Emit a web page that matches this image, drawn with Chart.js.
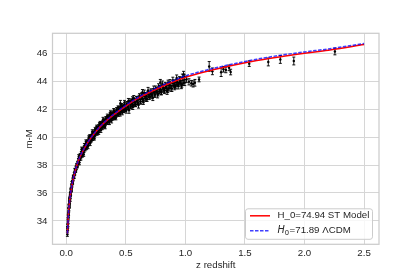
<!DOCTYPE html>
<html>
<head>
<meta charset="utf-8">
<script src="https://cdn.jsdelivr.net/npm/chart.js@4.4.0/dist/chart.umd.min.js"></script>
<style>
  body { margin: 0; background: #fff; }
  canvas { display: block; }
</style>
</head>
<body>
<canvas id="hubble" width="420" height="280"></canvas>
<script>
// model curves
const zModel = [0.01, 0.02, 0.03, 0.05, 0.075, 0.1, 0.15, 0.2, 0.25, 0.3, 0.4, 0.5, 0.6, 0.7, 0.8, 0.9, 1.0, 1.2, 1.4, 1.6, 1.8, 2.0, 2.2, 2.5];
const muST = [33.1, 34.63, 35.53, 36.64, 37.55, 38.25, 39.16, 39.85, 40.4, 40.87, 41.6, 42.22, 42.76, 43.2, 43.6, 43.95, 44.27, 44.74, 45.13, 45.47, 45.75, 45.99, 46.21, 46.62];
const muLCDM = [33.1, 34.64, 35.55, 36.66, 37.57, 38.27, 39.18, 39.87, 40.43, 40.9, 41.64, 42.27, 42.82, 43.27, 43.68, 44.04, 44.37, 44.84, 45.23, 45.57, 45.85, 46.09, 46.3, 46.69];

// supernova data (redshift, distance modulus, error)
const zObs = [
  0.010, 0.012, 0.013, 0.015, 0.016, 0.018, 0.019, 0.021, 0.022, 0.024,
  0.025, 0.027, 0.028, 0.030, 0.031, 0.033, 0.035, 0.037, 0.039, 0.041,
  0.043, 0.046, 0.048, 0.050, 0.053, 0.056, 0.059, 0.062, 0.065, 0.068,
  0.072, 0.075, 0.078, 0.082, 0.085, 0.088, 0.092, 0.095, 0.099, 0.103,
  0.107, 0.111, 0.115, 0.119, 0.123, 0.127, 0.131, 0.135, 0.140, 0.144,
  0.148, 0.152, 0.157, 0.161, 0.166, 0.170, 0.175, 0.180, 0.185, 0.190,
  0.195, 0.200, 0.205, 0.210, 0.216, 0.222, 0.228, 0.234, 0.240, 0.246,
  0.252, 0.258, 0.264, 0.270, 0.276, 0.282, 0.288, 0.294, 0.300, 0.307,
  0.314, 0.321, 0.328, 0.335, 0.342, 0.349, 0.356, 0.363, 0.370, 0.378,
  0.386, 0.394, 0.402, 0.410, 0.418, 0.426, 0.434, 0.442, 0.450, 0.455,
  0.458, 0.466, 0.474, 0.482, 0.490, 0.500, 0.510, 0.520, 0.530, 0.540,
  0.550, 0.560, 0.570, 0.580, 0.590, 0.600, 0.612, 0.624, 0.636, 0.648,
  0.660, 0.672, 0.684, 0.696, 0.708, 0.720, 0.732, 0.745, 0.758, 0.771,
  0.784, 0.797, 0.810, 0.824, 0.838, 0.852, 0.866, 0.880, 0.895, 0.910,
  0.925, 0.940, 0.955, 0.970, 0.985, 0.995, 1.010, 1.030, 1.050, 1.065,
  1.080, 1.115, 1.200, 1.227, 1.300, 1.320, 1.340, 1.367, 1.380, 1.536,
  1.696, 1.797, 1.910, 2.255, 0.372, 0.522, 0.556, 0.640, 0.790,
  0.105, 0.111, 0.117, 0.123, 0.129, 0.135, 0.141, 0.147, 0.153, 0.159,
  0.165, 0.171, 0.177, 0.183, 0.189, 0.195, 0.201, 0.207, 0.213, 0.219,
  0.225, 0.231, 0.237, 0.243, 0.249, 0.255, 0.261, 0.267, 0.273, 0.279,
  0.285, 0.291, 0.297, 0.303, 0.309, 0.315, 0.321, 0.327, 0.333, 0.339,
  0.345, 0.351, 0.357, 0.363, 0.369, 0.375, 0.381, 0.387, 0.393, 0.399,
  0.405, 0.411, 0.417, 0.423, 0.429, 0.435, 0.441, 0.447, 0.453, 0.459,
  0.465, 0.471, 0.477, 0.483, 0.489, 0.495,
  0.503, 0.511, 0.519, 0.527, 0.535, 0.543, 0.551, 0.559, 0.567, 0.575,
  0.583, 0.591, 0.599, 0.607, 0.615, 0.623, 0.631, 0.639, 0.647, 0.655,
  0.663, 0.671, 0.679, 0.687, 0.695, 0.703, 0.711, 0.719, 0.727, 0.735,
  0.743, 0.751, 0.759, 0.767, 0.775, 0.783, 0.791, 0.799, 0.807, 0.815,
  0.823, 0.831, 0.839, 0.847, 0.855, 0.863, 0.871, 0.879, 0.887, 0.895,
  0.903, 0.911, 0.919, 0.927, 0.935, 0.943, 0.951, 0.959, 0.967, 0.975,
  0.983, 0.991,
  0.011, 0.014, 0.017, 0.020, 0.023, 0.026, 0.029, 0.032, 0.036, 0.040,
  0.044, 0.049, 0.054, 0.060, 0.066, 0.073, 0.080, 0.087, 0.094
];
const muObs = [
  33.05, 33.45, 33.62, 33.95, 34.12, 34.38, 34.52, 34.78, 34.85, 35.08,
  35.05, 35.32, 35.36, 35.50, 35.62, 35.74, 35.88, 35.95, 36.15, 36.22,
  36.30, 36.52, 36.55, 36.70, 36.78, 36.95, 37.02, 37.15, 37.18, 37.35,
  37.40, 37.62, 37.58, 37.80, 37.78, 37.95, 38.00, 38.15, 38.12, 38.35,
  38.30, 38.52, 38.45, 38.65, 38.62, 38.85, 38.72, 38.98, 38.92, 39.15,
  39.02, 39.25, 39.12, 39.38, 39.30, 39.55, 39.38, 39.68, 39.52, 39.80,
  39.62, 39.95, 39.72, 40.05, 39.88, 40.20, 40.02, 40.38, 40.15, 40.48,
  40.28, 40.62, 40.38, 40.75, 40.50, 40.85, 40.62, 40.98, 40.72, 41.05,
  40.82, 41.18, 40.95, 41.28, 41.05, 41.40, 41.15, 41.48, 41.25, 41.58,
  41.35, 41.70, 41.45, 41.80, 41.55, 41.88, 41.62, 42.02, 41.75, 42.42,
  42.05, 41.85, 42.12, 41.92, 42.28, 42.00, 42.38, 42.10, 42.45, 42.20,
  42.55, 42.28, 42.62, 42.35, 42.72, 42.45, 42.82, 42.55, 42.90, 42.62,
  43.02, 42.72, 43.10, 42.85, 43.18, 42.95, 43.28, 43.05, 43.35, 43.12,
  43.48, 43.22, 43.55, 43.30, 43.65, 43.38, 43.72, 43.48, 43.85, 43.58,
  43.92, 43.65, 44.05, 43.78, 44.50, 43.90, 44.12, 43.95, 43.85, 43.80,
  43.88, 44.12, 45.05, 44.70, 44.63, 44.85, 44.80, 44.95, 44.65, 45.25,
  45.37, 45.55, 45.44, 46.12, 41.70, 42.58, 42.70, 43.20, 43.90,
  38.60, 38.18, 38.70, 38.53, 39.13, 38.68, 39.04, 38.76, 39.38, 39.19,
  39.66, 39.26, 39.61, 39.35, 39.93, 40.04, 39.56, 40.03, 39.82, 40.39,
  39.90, 40.22, 39.92, 40.51, 40.29, 40.73, 40.31, 40.63, 40.35, 40.90,
  40.98, 40.49, 40.94, 40.71, 41.26, 40.75, 41.06, 40.73, 41.31, 41.07,
  41.50, 41.06, 41.37, 41.07, 41.61, 41.69, 41.18, 41.62, 41.38, 41.91,
  41.39, 41.69, 41.36, 41.93, 41.69, 42.11, 41.67, 41.96, 41.66, 42.19,
  42.26, 41.75, 42.18, 41.94, 42.47, 41.95,
  41.89, 42.33, 42.13, 41.92, 42.54, 42.18, 42.41, 42.15, 42.77, 42.48,
  42.35, 42.71, 42.50, 42.29, 42.91, 42.52, 42.95, 42.74, 42.53, 43.13,
  42.76, 42.98, 42.71, 43.33, 43.03, 42.89, 43.24, 43.03, 42.81, 43.42,
  43.02, 43.45, 43.24, 43.02, 43.62, 43.25, 43.46, 43.20, 43.81, 43.50,
  43.36, 43.71, 43.49, 43.27, 43.88, 43.47, 43.90, 43.68, 43.46, 44.05,
  43.68, 43.89, 43.61, 44.22, 43.91, 43.77, 44.11, 43.89, 43.66, 44.27,
  43.87, 44.29,
  33.43, 33.73, 34.30, 34.49, 35.01, 35.12, 35.55, 35.51, 35.91, 36.23,
  36.21, 36.72, 36.76, 37.15, 37.15, 37.64, 37.62, 37.95, 37.92
];
const muErr = [
  0.15, 0.14, 0.13, 0.13, 0.12, 0.12, 0.12, 0.12, 0.11, 0.11,
  0.11, 0.11, 0.11, 0.11, 0.11, 0.11, 0.11, 0.11, 0.11, 0.11,
  0.11, 0.11, 0.11, 0.11, 0.11, 0.11, 0.11, 0.11, 0.11, 0.11,
  0.11, 0.11, 0.12, 0.12, 0.12, 0.12, 0.12, 0.12, 0.12, 0.12,
  0.12, 0.12, 0.12, 0.12, 0.12, 0.12, 0.13, 0.12, 0.12, 0.12,
  0.12, 0.12, 0.12, 0.12, 0.12, 0.12, 0.12, 0.12, 0.12, 0.12,
  0.12, 0.13, 0.12, 0.13, 0.12, 0.13, 0.12, 0.13, 0.13, 0.13,
  0.13, 0.13, 0.13, 0.13, 0.13, 0.13, 0.13, 0.13, 0.13, 0.13,
  0.13, 0.13, 0.13, 0.13, 0.13, 0.14, 0.13, 0.14, 0.14, 0.14,
  0.14, 0.14, 0.14, 0.14, 0.14, 0.14, 0.14, 0.15, 0.14, 0.20,
  0.15, 0.14, 0.15, 0.15, 0.15, 0.15, 0.15, 0.15, 0.15, 0.15,
  0.16, 0.15, 0.16, 0.16, 0.16, 0.16, 0.17, 0.16, 0.17, 0.17,
  0.17, 0.17, 0.18, 0.17, 0.18, 0.18, 0.18, 0.18, 0.19, 0.18,
  0.19, 0.19, 0.20, 0.19, 0.20, 0.20, 0.20, 0.20, 0.21, 0.20,
  0.22, 0.21, 0.22, 0.22, 0.20, 0.22, 0.23, 0.22, 0.20, 0.22,
  0.24, 0.17, 0.35, 0.24, 0.30, 0.20, 0.20, 0.20, 0.20, 0.20,
  0.28, 0.28, 0.28, 0.24, 0.18, 0.18, 0.18, 0.20, 0.22,
  0.14, 0.16, 0.13, 0.18, 0.15, 0.12, 0.17, 0.14, 0.16, 0.13,
  0.14, 0.16, 0.13, 0.18, 0.15, 0.12, 0.17, 0.14, 0.16, 0.13,
  0.14, 0.16, 0.13, 0.18, 0.15, 0.12, 0.17, 0.14, 0.16, 0.13,
  0.14, 0.16, 0.13, 0.18, 0.15, 0.12, 0.17, 0.14, 0.16, 0.13,
  0.14, 0.16, 0.13, 0.18, 0.15, 0.12, 0.17, 0.14, 0.16, 0.13,
  0.14, 0.16, 0.13, 0.18, 0.15, 0.12, 0.17, 0.14, 0.16, 0.13,
  0.14, 0.16, 0.13, 0.18, 0.15, 0.12,
  0.18, 0.20, 0.16, 0.22, 0.19, 0.17, 0.21, 0.18, 0.20, 0.23,
  0.18, 0.20, 0.16, 0.22, 0.19, 0.17, 0.21, 0.18, 0.20, 0.23,
  0.18, 0.20, 0.16, 0.22, 0.19, 0.17, 0.21, 0.18, 0.20, 0.23,
  0.18, 0.20, 0.16, 0.22, 0.19, 0.17, 0.21, 0.18, 0.20, 0.23,
  0.18, 0.20, 0.16, 0.22, 0.19, 0.17, 0.21, 0.18, 0.20, 0.23,
  0.18, 0.20, 0.16, 0.22, 0.19, 0.17, 0.21, 0.18, 0.20, 0.23,
  0.18, 0.20,
  0.13, 0.12, 0.12, 0.11, 0.12, 0.11, 0.12, 0.11, 0.12, 0.11,
  0.12, 0.11, 0.12, 0.12, 0.11, 0.12, 0.12, 0.13, 0.12
];

const xTicks = [0, 0.5, 1.0, 1.5, 2.0, 2.5];
const yTicks = [34, 36, 38, 40, 42, 44, 46];

const labelST = 'H_0=74.94 ST Model';
const labelLCDM = '=71.89 \u039bCDM';

const textColor = '#262626';
const gridColor = '#d6d6d6';
const baseFont = { family: '"Liberation Sans", Arial, sans-serif', size: 9.7 };

// axes frame like matplotlib spines
const frame = {
  id: 'frame',
  beforeDatasetsDraw(chart) {
    const { ctx, chartArea: a } = chart;
    ctx.save();
    ctx.strokeStyle = '#cccccc';
    ctx.lineWidth = 1.25;
    ctx.strokeRect(a.left, a.top, a.right - a.left, a.bottom - a.top);
    ctx.restore();
  }
};

// vertical error bars with small caps
const errorBars = {
  id: 'errorBars',
  beforeDatasetsDraw(chart) {
    const { ctx, chartArea: a, scales: { x, y } } = chart;
    ctx.save();
    ctx.beginPath();
    ctx.rect(a.left, a.top, a.right - a.left, a.bottom - a.top);
    ctx.clip();
    ctx.strokeStyle = 'rgba(0,0,0,0.92)';
    ctx.lineWidth = 1;
    ctx.beginPath();
    zObs.forEach((z, i) => {
      const px = x.getPixelForValue(z);
      const top = y.getPixelForValue(muObs[i] + muErr[i]);
      const bot = y.getPixelForValue(muObs[i] - muErr[i]);
      ctx.moveTo(px, top); ctx.lineTo(px, bot);
      ctx.moveTo(px - 1.5, top); ctx.lineTo(px + 1.5, top);
      ctx.moveTo(px - 1.5, bot); ctx.lineTo(px + 1.5, bot);
    });
    ctx.stroke();
    ctx.restore();
  }
};

// legend box in lower right of the plot
const legendBox = {
  id: 'legendBox',
  afterDraw(chart) {
    const { ctx, chartArea: a } = chart;
    const w = 127, h = 30.5;
    const x0 = a.right - 6.5 - w;
    const y0 = a.bottom - 5 - h;
    const r = 2.5;
    ctx.save();
    ctx.beginPath();
    ctx.moveTo(x0 + r, y0);
    ctx.arcTo(x0 + w, y0, x0 + w, y0 + h, r);
    ctx.arcTo(x0 + w, y0 + h, x0, y0 + h, r);
    ctx.arcTo(x0, y0 + h, x0, y0, r);
    ctx.arcTo(x0, y0, x0 + w, y0, r);
    ctx.closePath();
    ctx.fillStyle = 'rgba(255,255,255,0.8)';
    ctx.fill();
    ctx.strokeStyle = '#cccccc';
    ctx.lineWidth = 1;
    ctx.stroke();

    const ds = chart.data.datasets;
    const rows = [y0 + 7, y0 + 22];
    [0, 1].forEach((k, j) => {
      ctx.beginPath();
      ctx.strokeStyle = ds[k].borderColor;
      ctx.lineWidth = ds[k].borderWidth;
      ctx.setLineDash(ds[k].borderDash || []);
      ctx.moveTo(x0 + 4.5, rows[j]);
      ctx.lineTo(x0 + 24.5, rows[j]);
      ctx.stroke();
    });
    ctx.setLineDash([]);
    ctx.fillStyle = textColor;
    ctx.textBaseline = 'middle';
    ctx.font = '9.7px "Liberation Sans", Arial, sans-serif';
    ctx.fillText(labelST, x0 + 32, rows[0]);
    let tx = x0 + 32;
    ctx.font = 'italic 9.7px "DejaVu Sans", sans-serif';
    ctx.fillText('H', tx, rows[1]);
    tx += ctx.measureText('H').width;
    ctx.font = '6.8px "DejaVu Sans", sans-serif';
    ctx.fillText('0', tx, rows[1] + 2.5);
    tx += ctx.measureText('0').width + 0.5;
    ctx.font = '9.7px "Liberation Sans", Arial, sans-serif';
    ctx.fillText(labelLCDM, tx, rows[1]);
    ctx.restore();
  }
};

const ctx = document.getElementById('hubble').getContext('2d');
new Chart(ctx, {
  type: 'scatter',
  data: {
    datasets: [
      {
        label: labelST,
        data: zModel.map((z, i) => ({ x: z, y: muST[i] })),
        showLine: true,
        borderColor: '#ff0000',
        borderWidth: 1.5,
        pointRadius: 0,
        cubicInterpolationMode: 'monotone',
        order: 1
      },
      {
        label: 'H0' + labelLCDM,
        data: zModel.map((z, i) => ({ x: z, y: muLCDM[i] })),
        showLine: true,
        borderColor: 'rgba(0,0,255,0.75)',
        borderWidth: 1.5,
        borderDash: [3.5, 1.5],
        pointRadius: 0,
        cubicInterpolationMode: 'monotone',
        order: 0
      },
      {
        label: 'data',
        data: zObs.map((z, i) => ({ x: z, y: muObs[i] })),
        pointRadius: 1.2,
        pointBackgroundColor: '#000',
        pointBorderWidth: 0,
        order: 2
      }
    ]
  },
  options: {
    responsive: false,
    animation: false,
    devicePixelRatio: 1,
    layout: { padding: { top: 33.3, right: 41, left: 0, bottom: 0 } },
    plugins: {
      legend: { display: false },
      tooltip: { enabled: false }
    },
    scales: {
      x: {
        type: 'linear',
        min: -0.115,
        max: 2.625,
        afterBuildTicks: s => { s.ticks = xTicks.map(v => ({ value: v })); },
        afterFit: s => { s.height = 35.7; },
        grid: { color: gridColor, lineWidth: 1, drawTicks: false },
        border: { display: false },
        ticks: { padding: 3, color: textColor, font: baseFont, callback: v => v.toFixed(1) },
        title: { display: true, text: 'z redshift', color: textColor, font: baseFont, padding: { top: 0, bottom: 9.2 } }
      },
      y: {
        type: 'linear',
        min: 32.33,
        max: 47.42,
        afterBuildTicks: s => { s.ticks = yTicks.map(v => ({ value: v })); },
        afterFit: s => { s.width = 52.5; },
        grid: { color: gridColor, lineWidth: 1, drawTicks: false },
        border: { display: false },
        ticks: { padding: 5, color: textColor, font: baseFont, callback: v => String(v) },
        title: { display: true, text: 'm-M', color: textColor, font: baseFont, padding: { top: 23.5, bottom: 0 } }
      }
    }
  },
  plugins: [frame, errorBars, legendBox]
});
</script>
</body>
</html>
